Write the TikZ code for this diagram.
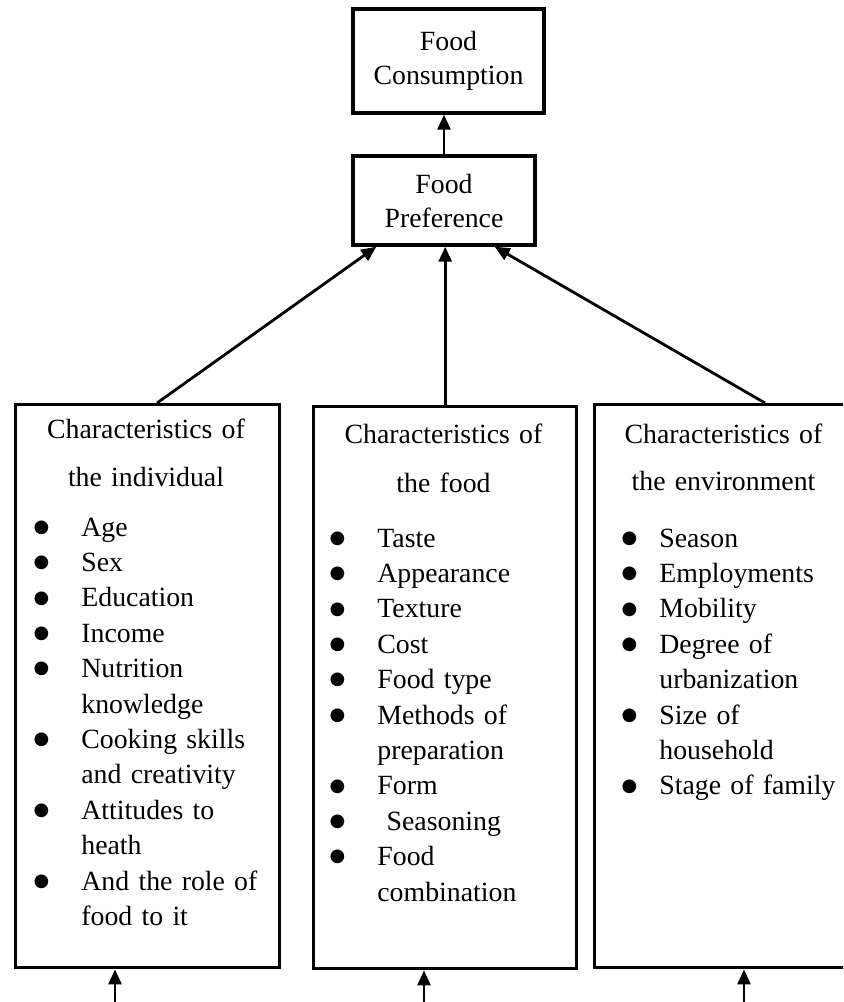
\documentclass[tikz,border=0pt]{standalone}
\usepackage{fontspec}
\setmainfont{Liberation Serif}
\newfontfamily\bulfont{DejaVu Sans}
\usetikzlibrary{arrows.meta,positioning,calc}
\newcommand{\fb}[1][16pt]{\ifvmode\noindent\fi\llap{\raisebox{1.9pt}{\bulfont\fontsize{9pt}{9pt}\selectfont ●}\hspace{#1}}}

\begin{document}
\begin{tikzpicture}[x=0.5pt,y=-0.5pt,
	top_box/.style={draw,line width=1.7pt,inner sep=0pt,align=center,font=\fontsize{13.9pt}{16.7pt}\selectfont},
	big_box/.style={draw,line width=1.7pt,anchor=north west,inner sep=0pt,minimum width=132pt,minimum height=281.5pt},
	head_text/.style={anchor=base,inner sep=0pt,text width=125pt,align=center,font=\fontsize{13.9pt}{17.7pt}\selectfont},
	list_text/.style={anchor=base west,inner sep=0pt,text width=100pt,align=left,font={\fontsize{13.9pt}{17.7pt}\selectfont\setlength{\parindent}{0pt}}},
	arrow_line/.style={line width=1.4pt,-{Triangle[length=7.5pt,width=6.5pt]}}]
				\useasboundingbox (0,0) rectangle (843,1002);
				\clip (0,0) rectangle (843,1002);
				% top of the chain
				\node[top_box,minimum width=95.5pt,minimum height=52pt](cons) at (448.5,61){Food\\Consumption};
				\node[top_box,minimum width=91pt,minimum height=44.5pt](pref) at (444,200.5){Food\\[0.3pt]Preference};
				% the three groups of characteristics
				\node[big_box](indiv) at (14,403){};
				\node[big_box,minimum width=131.5pt,minimum height=281pt](food) at (312,405){};
				\node[big_box,minimum width=130.5pt](env) at (593,403){};
				\node[head_text](indiv_head) at (146,438){Characteristics of\\[6.3pt]the individual};
				\node[head_text](food_head) at (443.5,443){Characteristics of\\[6.8pt]the food};
				\node[head_text](env_head) at (723.5,443){Characteristics of\\[5.8pt]the environment};
				\node[list_text](indiv_list) at (81,536){\fb Age\\ \fb Sex\\ \fb Education\\ \fb Income\\ \fb Nutrition\\ knowledge\\ \fb Cooking skills\\ and creativity\\ \fb Attitudes to\\ heath\\ \fb And the role of\\ food to it};
				\node[list_text](food_list) at (377,547){\fb Taste\\ \fb Appearance\\ \fb Texture\\ \fb Cost\\ \fb Food type\\ \fb Methods of\\ preparation\\ \fb Form\\ \fb\ Seasoning\\ \fb Food\\ combination};
				\node[list_text](env_list) at (659,547){\fb[11pt]Season\\ \fb[11pt]Employments\\ \fb[11pt]Mobility\\ \fb[11pt]Degree of\\ urbanization\\ \fb[11pt]Size of\\ household\\ \fb[11pt]Stage of family};
				% arrows
				\draw[arrow_line] (pref.north) -- (pref.north |- cons.south);
				\draw[arrow_line] ([xshift=71.5pt]indiv.north west) -- ([xshift=12.5pt]pref.south west);
				\draw[arrow_line] (food.north) -- (food.north |- pref.south);
				\draw[arrow_line] ([xshift=86pt]env.north west) -- ([xshift=-21pt]pref.south east);
				% line along the bottom
				\coordinate (bus_a) at (115,1003.2);
				\coordinate (bus_b) at (424,1003.2);
				\coordinate (bus_c) at (744,1003.2);
				\draw[line width=1.4pt] (bus_a) -- (bus_c);
				\draw[arrow_line] (bus_a) -- (bus_a |- indiv.south);
				\draw[arrow_line] (bus_b) -- (bus_b |- food.south);
				\draw[arrow_line] (bus_c) -- (bus_c |- env.south);
			\end{tikzpicture}
\end{document}
